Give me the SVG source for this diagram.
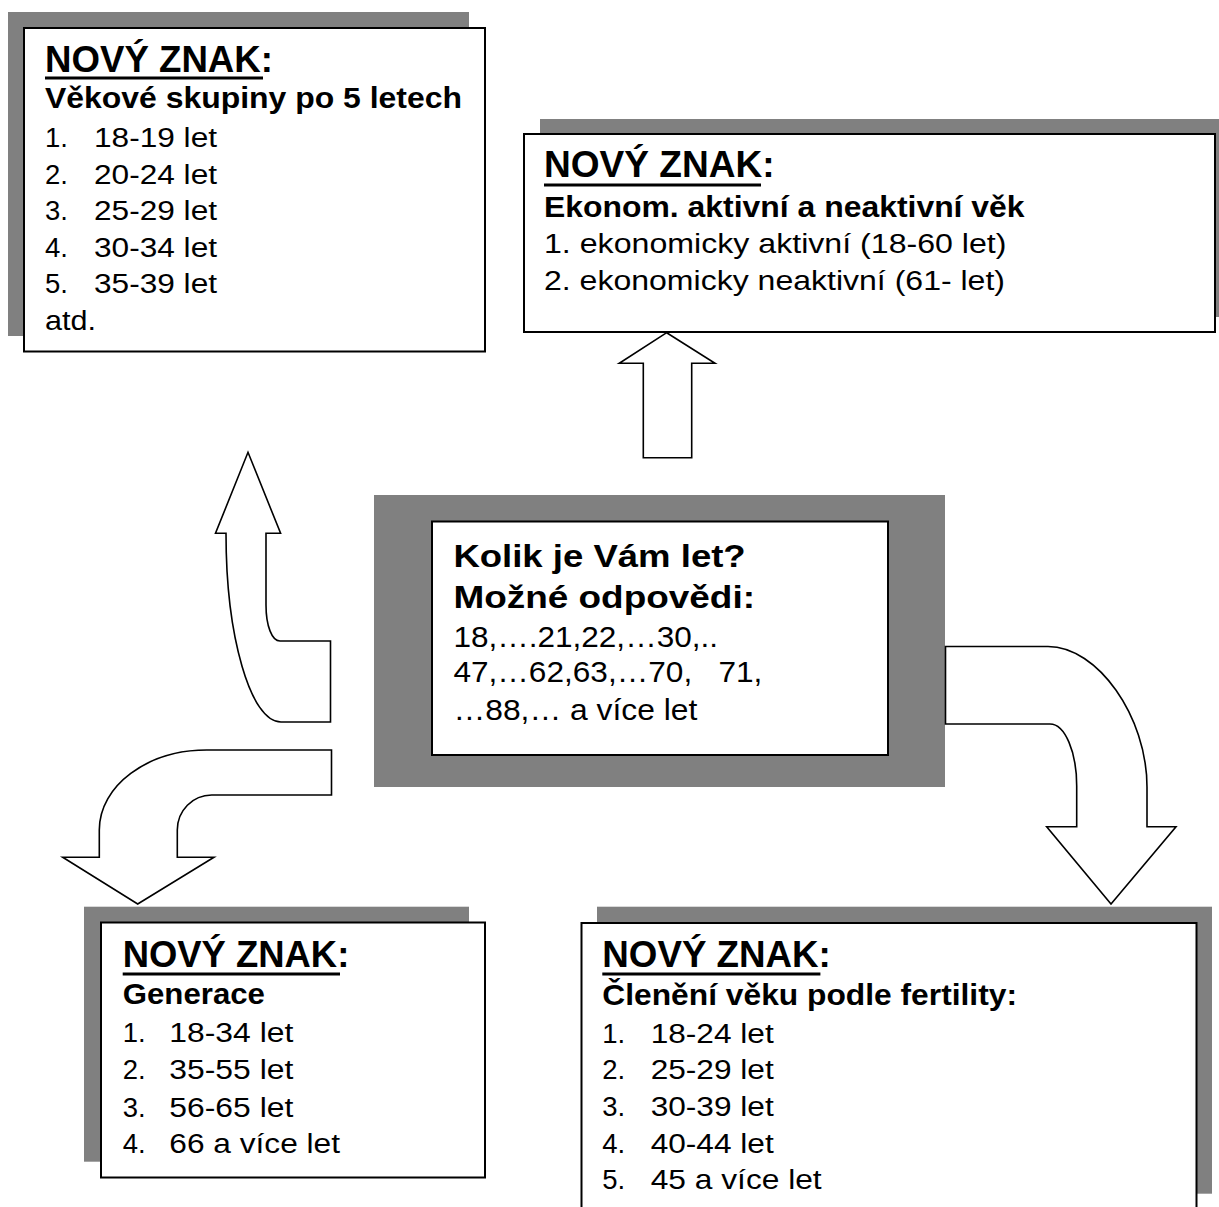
<svg xmlns="http://www.w3.org/2000/svg" width="1219" height="1207" viewBox="0 0 1219 1207">
<style>
text{font-family:"Liberation Sans",Arial,sans-serif;fill:#000}
.shadow{fill:#808080}
.box{fill:#fff;stroke:#000;stroke-width:2}
.h{font-size:36px;font-weight:bold}
.b{font-size:30px;font-weight:bold}
.r{font-size:27.5px}
.cb{font-size:31px;font-weight:bold}
.cr{font-size:29.5px;white-space:pre}
.ul{stroke:#000;stroke-width:3}
.arrow{fill:#fff;stroke:#000;stroke-width:1.6;stroke-linejoin:miter}
</style>
<rect width="1219" height="1207" fill="#fff"/>

<g id="node-5letech">
<rect class="shadow" x="8" y="12" width="461" height="324"/>
<rect class="box" x="24" y="28" width="461" height="323.5"/>
<text class="h" x="45" y="72" textLength="228" lengthAdjust="spacingAndGlyphs">NOVÝ ZNAK:</text>
<line class="ul" x1="45" y1="78" x2="263" y2="78"/>
<text class="b" x="45" y="108" textLength="417" lengthAdjust="spacingAndGlyphs">Věkové skupiny po 5 letech</text>
<text class="r" x="45" y="147">1.</text><text class="r" x="94" y="147" textLength="123" lengthAdjust="spacingAndGlyphs">18-19 let</text>
<text class="r" x="45" y="183.5">2.</text><text class="r" x="94" y="183.5" textLength="123" lengthAdjust="spacingAndGlyphs">20-24 let</text>
<text class="r" x="45" y="220">3.</text><text class="r" x="94" y="220" textLength="123" lengthAdjust="spacingAndGlyphs">25-29 let</text>
<text class="r" x="45" y="256.5">4.</text><text class="r" x="94" y="256.5" textLength="123" lengthAdjust="spacingAndGlyphs">30-34 let</text>
<text class="r" x="45" y="293">5.</text><text class="r" x="94" y="293" textLength="123" lengthAdjust="spacingAndGlyphs">35-39 let</text>
<text class="r" x="45" y="330" textLength="51" lengthAdjust="spacingAndGlyphs">atd.</text>
</g>

<g id="node-ekonom">
<rect class="shadow" x="540" y="119" width="691" height="198"/>
<rect class="box" x="524" y="134" width="691" height="198"/>
<text class="h" x="544" y="177" textLength="230.6" lengthAdjust="spacingAndGlyphs">NOVÝ ZNAK:</text>
<line class="ul" x1="544" y1="185" x2="761" y2="185"/>
<text class="b" x="544" y="217.3" textLength="480.6" lengthAdjust="spacingAndGlyphs">Ekonom. aktivní a neaktivní věk</text>
<text class="r" x="544" y="253.3" textLength="462.5" lengthAdjust="spacingAndGlyphs">1. ekonomicky aktivní (18-60 let)</text>
<text class="r" x="544" y="290" textLength="461" lengthAdjust="spacingAndGlyphs">2. ekonomicky neaktivní (61- let)</text>
</g>

<g id="node-center">
<rect class="shadow" x="374" y="495" width="571" height="292"/>
<rect class="box" x="432" y="521.5" width="456" height="233.5"/>
<text class="cb" x="453.4" y="566.7" textLength="292.3" lengthAdjust="spacingAndGlyphs">Kolik je Vám let?</text>
<text class="cb" x="453.4" y="608.3" textLength="301.6" lengthAdjust="spacingAndGlyphs">Možné odpovědi:</text>
<text class="cr" x="453.4" y="646.7" textLength="264.6" lengthAdjust="spacingAndGlyphs">18,….21,22,…30,..</text>
<text class="cr" x="453.4" y="681.7" textLength="309" lengthAdjust="spacingAndGlyphs" xml:space="preserve">47,…62,63,…70,   71,</text>
<text class="cr" x="453.4" y="720" textLength="244" lengthAdjust="spacingAndGlyphs">…88,… a více let</text>
</g>

<g id="node-generace">
<rect class="shadow" x="84" y="906.7" width="385" height="255"/>
<rect class="box" x="101" y="922.5" width="384" height="255"/>
<text class="h" x="122.7" y="967.3" textLength="226.6" lengthAdjust="spacingAndGlyphs">NOVÝ ZNAK:</text>
<line class="ul" x1="122.7" y1="974" x2="340" y2="974"/>
<text class="b" x="122.7" y="1004" textLength="142.3" lengthAdjust="spacingAndGlyphs">Generace</text>
<text class="r" x="122.7" y="1041.7">1.</text><text class="r" x="169.3" y="1041.7" textLength="124" lengthAdjust="spacingAndGlyphs">18-34 let</text>
<text class="r" x="122.7" y="1079.3">2.</text><text class="r" x="169.3" y="1079.3" textLength="124" lengthAdjust="spacingAndGlyphs">35-55 let</text>
<text class="r" x="122.7" y="1116.7">3.</text><text class="r" x="169.3" y="1116.7" textLength="124" lengthAdjust="spacingAndGlyphs">56-65 let</text>
<text class="r" x="122.7" y="1153.3">4.</text><text class="r" x="169.3" y="1153.3" textLength="170.7" lengthAdjust="spacingAndGlyphs">66 a více let</text>
</g>

<g id="node-fertilita">
<rect class="shadow" x="597" y="906.7" width="615" height="287"/>
<rect class="box" x="581.5" y="923" width="615" height="300"/>
<text class="h" x="602.3" y="967.3" textLength="228.5" lengthAdjust="spacingAndGlyphs">NOVÝ ZNAK:</text>
<line class="ul" x1="602.3" y1="974" x2="820.4" y2="974"/>
<text class="b" x="602.3" y="1005" textLength="414.7" lengthAdjust="spacingAndGlyphs">Členění věku podle fertility:</text>
<text class="r" x="602.3" y="1042.7">1.</text><text class="r" x="650.7" y="1042.7" textLength="123" lengthAdjust="spacingAndGlyphs">18-24 let</text>
<text class="r" x="602.3" y="1079.3">2.</text><text class="r" x="650.7" y="1079.3" textLength="123" lengthAdjust="spacingAndGlyphs">25-29 let</text>
<text class="r" x="602.3" y="1116">3.</text><text class="r" x="650.7" y="1116" textLength="123" lengthAdjust="spacingAndGlyphs">30-39 let</text>
<text class="r" x="602.3" y="1153">4.</text><text class="r" x="650.7" y="1153" textLength="123" lengthAdjust="spacingAndGlyphs">40-44 let</text>
<text class="r" x="602.3" y="1189">5.</text><text class="r" x="650.7" y="1189" textLength="171" lengthAdjust="spacingAndGlyphs">45 a více let</text>
</g>

<g id="connectors">
<path class="arrow" d="M643.3 457.7 L643.3 363.3 L619.3 363.3 L666.7 332.7 L715 363.3 L691.7 363.3 L691.7 457.7 Z"/>
<path class="arrow" d="M281 722 C250.6 722 226 637 226 533.3 L215.5 533.3 L248 452.3 L280.6 533.3 L266 533.3 L266 605 C266 626 272 641 280 641 L330.5 641 L330.5 722 Z"/>
<path class="arrow" d="M331.5 750 L206.7 750 C147.4 750 99.3 785.8 99.3 830 L99.3 857.3 L62.7 857.3 L137.7 904 L214 857.3 L177.3 857.3 L177.3 830 C177.3 810.7 192.7 795 211.7 795 L331.5 795 Z"/>
<path class="arrow" d="M945.5 646.5 L1048 646.5 C1097.5 646.5 1147 716.5 1147 787 L1147 826.7 L1176 826.7 L1111 904 L1046.7 826.7 L1076.7 826.7 L1076.7 786 C1076.7 751.8 1064.9 724 1050 724 L945.5 724 Z"/>
</g>
</svg>
